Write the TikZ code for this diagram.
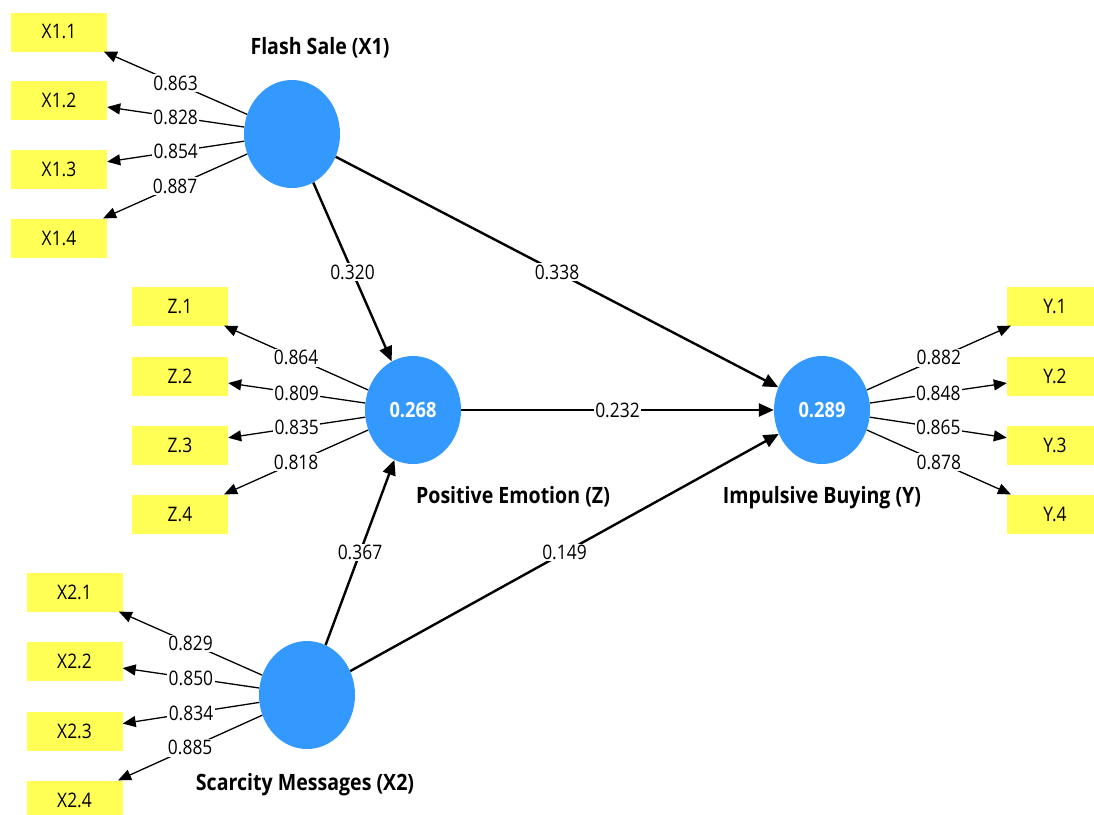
\documentclass[tikz,border=0pt]{standalone}
\usepackage{fontspec}
\setmainfont{Open Sans}[FakeStretch=0.87]
\usetikzlibrary{shapes.geometric,arrows.meta}
\definecolor{lvblue}{RGB}{51,153,255}
\definecolor{indyellow}{RGB}{255,255,85}
\begin{document}
\begin{tikzpicture}[x=1pt,y=-1pt,
  lv/.style={ellipse,fill=lvblue,minimum width=96pt,minimum height=108pt,inner sep=0pt,text=white,font=\fontsize{21}{24}\selectfont\bfseries},
  ind/.style={fill=indyellow,minimum width=96pt,minimum height=39pt,inner sep=0pt,font=\fontsize{20}{24}\selectfont},
  load/.style={line width=1.3pt,-{Triangle[length=13pt,width=11pt]}},
  spath/.style={line width=2.4pt,-{Triangle[length=15pt,width=13pt]}},
  coef/.style={fill=white,inner sep=1.5pt,font=\fontsize{20}{24}\selectfont},
  lvtitle/.style={font=\fontsize{22.5}{26}\selectfont\bfseries}]
\clip (0,0) rectangle (1094,814);
\fill[white] (0,0) rectangle (1094,814);

% latent variables
\node[lv] (x1) at (292,134) {};
\node[lv] (z) at (413,410) {0.268};
\node[lv] (y) at (822,410) {0.289};
\node[lv] (x2) at (307,695) {};

% titles
\node[lvtitle] (tx1) at (320,48) {Flash Sale (X1)};
\node[lvtitle] (tz) at (513,497) {Positive Emotion (Z)};
\node[lvtitle] (ty) at (822,498) {Impulsive Buying (Y)};
\node[lvtitle] (tx2) at (305,785) {Scarcity Messages (X2)};

% indicators
\node[ind] (x11) at (59,32) {X1.1};
\node[ind] (x12) at (59,100) {X1.2};
\node[ind] (x13) at (59,169) {X1.3};
\node[ind] (x14) at (59,238) {X1.4};
\node[ind] (z1) at (180,306) {Z.1};
\node[ind] (z2) at (180,376) {Z.2};
\node[ind] (z3) at (180,445) {Z.3};
\node[ind] (z4) at (180,514) {Z.4};
\node[ind] (x21) at (74.5,592) {X2.1};
\node[ind] (x22) at (74.5,661) {X2.2};
\node[ind] (x23) at (74.5,731) {X2.3};
\node[ind] (x24) at (74.5,800) {X2.4};
\node[ind] (y1) at (1055,306) {Y.1};
\node[ind] (y2) at (1055,376) {Y.2};
\node[ind] (y3) at (1055,445) {Y.3};
\node[ind] (y4) at (1055,514) {Y.4};

% loadings
\draw[load] (x1) -- node[coef] {0.863} (x11);
\draw[load] (x1) -- node[coef] {0.828} (x12);
\draw[load] (x1) -- node[coef] {0.854} (x13);
\draw[load] (x1) -- node[coef] {0.887} (x14);
\draw[load] (z) -- node[coef] {0.864} (z1);
\draw[load] (z) -- node[coef] {0.809} (z2);
\draw[load] (z) -- node[coef] {0.835} (z3);
\draw[load] (z) -- node[coef] {0.818} (z4);
\draw[load] (x2) -- node[coef] {0.829} (x21);
\draw[load] (x2) -- node[coef] {0.850} (x22);
\draw[load] (x2) -- node[coef] {0.834} (x23);
\draw[load] (x2) -- node[coef] {0.885} (x24);
\draw[load] (y) -- node[coef] {0.882} (y1);
\draw[load] (y) -- node[coef] {0.848} (y2);
\draw[load] (y) -- node[coef] {0.865} (y3);
\draw[load] (y) -- node[coef] {0.878} (y4);

% structural paths
\draw[spath] (x1) -- node[coef] {0.320} (z);
\draw[spath] (x1) -- node[coef] {0.338} (y);
\draw[spath] (z) -- node[coef] {0.232} (y);
\draw[spath] (x2) -- node[coef] {0.367} (z);
\draw[spath] (x2) -- node[coef] {0.149} (y);
\end{tikzpicture}
\end{document}
